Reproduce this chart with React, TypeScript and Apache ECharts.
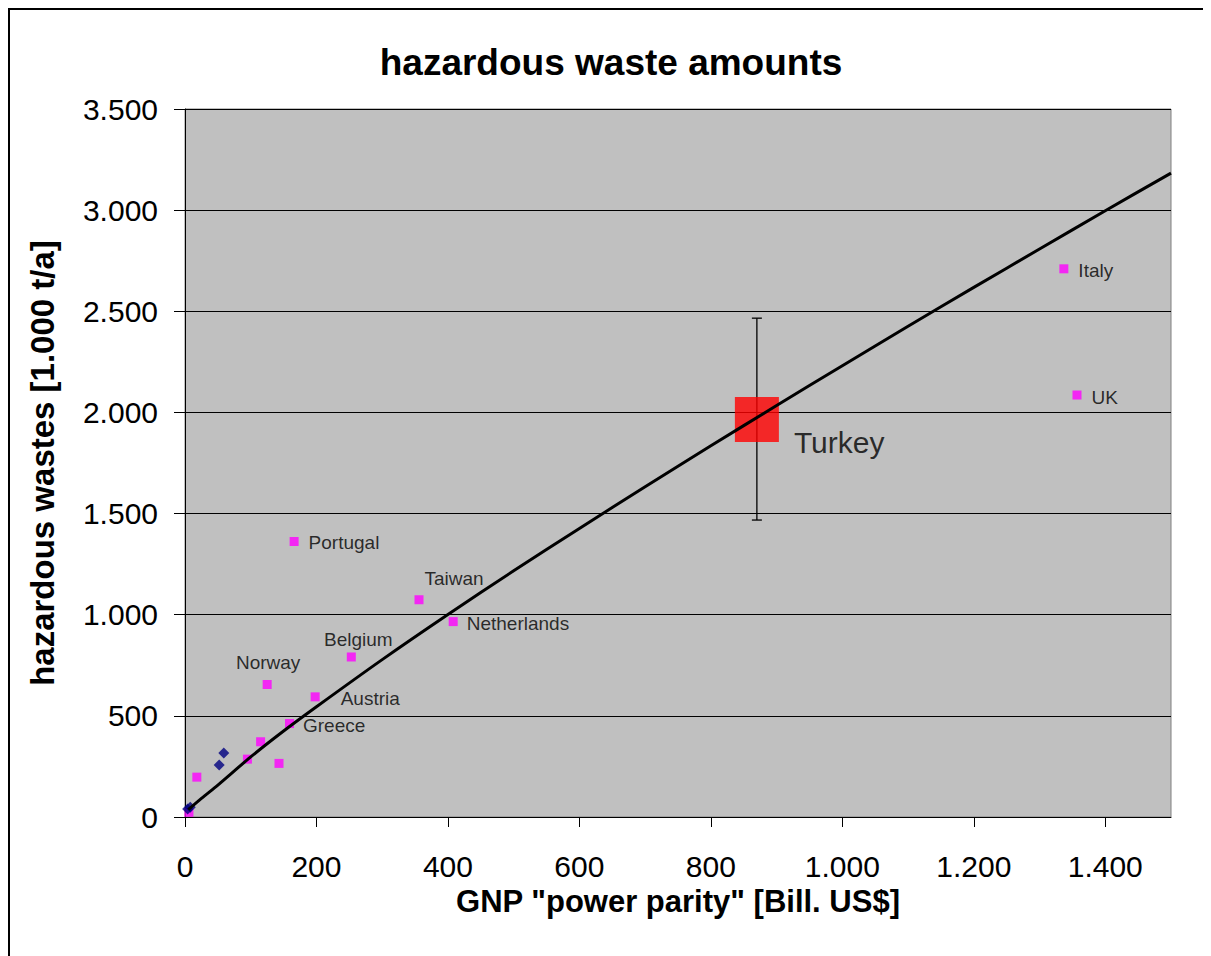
import React, { useEffect, useRef } from "react";
import * as echarts from "echarts";

// Labelled countries
const countries = ["Portugal", "Taiwan", "Netherlands", "Belgium", "Norway", "Austria", "Greece", "Italy", "UK"];
const countryGnp = [166, 356, 408, 253, 125, 198, 159, 1337, 1357];
const countryWaste = [1362, 1074, 966, 791, 655, 594, 462, 2710, 2086];

// Unlabelled magenta points
const otherGnp = [115, 95, 143, 18, 6];
const otherWaste = [372, 286, 265, 197, 23];

// Dark blue diamonds
const diamondGnp = [59, 52, 8, 4];
const diamondWaste = [316, 257, 48, 40];

// Turkey estimate with range
const turkeyGnp = 870;
const turkeyWaste = 1965;
const turkeyLow = 1468;
const turkeyHigh = 2466;

// Trend curve
const trendX = [5, 25, 50, 100, 150, 200, 300, 400, 500, 600, 700, 800, 900, 1000, 1100, 1200, 1300, 1400, 1500];
const trendY = [36, 92, 158, 297, 425, 545, 778, 1001, 1217, 1426, 1633, 1835, 2034, 2231, 2426, 2618, 2808, 2997, 3183];

// Axis ticks
const xTicks = [0, 200, 400, 600, 800, 1000, 1200, 1400];
const yTicks = [0, 500, 1000, 1500, 2000, 2500, 3000, 3500];

const FONT = "'Liberation Sans', Arial, sans-serif";

// label placement (style only)
const labelPlacement: Record<string, any> = {
  Portugal: { position: "right", distance: 10, offset: [0, 1] },
  Taiwan: { position: "top", distance: 7, offset: [35, 0] },
  Netherlands: { position: "right", distance: 9, offset: [0, 2] },
  Belgium: { position: "top", distance: 3, offset: [7, 0] },
  Norway: { position: "top", distance: 8, offset: [1, 0] },
  Austria: { position: "right", distance: 21, offset: [0, 2] },
  Greece: { position: "right", distance: 9, offset: [0, 2] },
  Italy: { position: "right", distance: 10, offset: [0, 2] },
  UK: { position: "right", distance: 10, offset: [0, 2] },
};

const fmt = (v: number) => String(v).replace(/\B(?=(\d{3})+(?!\d))/g, ".");

export default function App() {
  const ref = useRef<HTMLDivElement>(null);
  useEffect(() => {
    if (!ref.current) return;
    document.documentElement.style.overflow = "hidden";
    document.body.style.overflow = "hidden";
    const chart = echarts.init(ref.current, undefined, { renderer: "svg" });

    const countryData = countries.map((name, i) => ({
      value: [countryGnp[i], countryWaste[i]],
      name,
      label: {
        show: true,
        formatter: name,
        color: "#000",
        fontSize: 19,
        fontFamily: FONT,
        ...labelPlacement[name],
      },
    }));

    const option: any = {
      animation: false,
      backgroundColor: "#fff",
      title: {
        text: "hazardous waste amounts",
        left: 603,
        textAlign: "center",
        top: 36,
        padding: 0,
        textStyle: { fontSize: 37, fontWeight: "bold", color: "#000", fontFamily: FONT },
      },
      graphic: [
        {
          type: "line",
          shape: { x1: 1, y1: 0, x2: 1, y2: 2000 },
          style: { stroke: "#000", lineWidth: 2 },
          silent: true,
        },
        {
          type: "line",
          shape: { x1: 0, y1: 1, x2: 3000, y2: 1 },
          style: { stroke: "#000", lineWidth: 2 },
          silent: true,
        },
      ],
      grid: {
        left: 177,
        top: 101,
        right: 40,
        bottom: 139,
        show: true,
        backgroundColor: "#C0C0C0",
        borderColor: "#808080",
        borderWidth: 1,
      },
      xAxis: {
        type: "value",
        min: 0,
        max: 1500,
        interval: 200,
        name: 'GNP "power parity" [Bill. US$]',
        nameLocation: "middle",
        nameGap: 65,
        nameTextStyle: { fontSize: 31, fontWeight: "bold", color: "#000", fontFamily: FONT },
        axisLine: { show: true, onZero: false, lineStyle: { color: "#000", width: 1 } },
        axisTick: { show: true, length: 10, inside: false, customValues: xTicks, lineStyle: { color: "#000" } },
        axisLabel: {
          customValues: xTicks,
          formatter: (v: number) => fmt(v),
          fontSize: 30,
          color: "#000",
          fontFamily: FONT,
          margin: 34,
        },
        splitLine: { show: false },
      },
      yAxis: {
        type: "value",
        min: 0,
        max: 3500,
        interval: 500,
        name: "hazardous wastes [1.000 t/a]",
        nameLocation: "middle",
        nameGap: 126,
        nameTextStyle: { fontSize: 33, fontWeight: "bold", color: "#000", fontFamily: FONT },
        axisLine: { show: true, onZero: false, lineStyle: { color: "#000", width: 1 } },
        axisTick: { show: true, length: 11, inside: false, customValues: yTicks, lineStyle: { color: "#000" } },
        axisLabel: {
          customValues: yTicks,
          formatter: (v: number) => fmt(v),
          fontSize: 30,
          color: "#000",
          fontFamily: FONT,
          margin: 27,
        },
        splitLine: { show: true, lineStyle: { color: "#000", width: 1 } },
      },
      series: [
        {
          type: "custom",
          name: "range",
          z: 1,
          data: [[turkeyGnp, turkeyLow, turkeyHigh]],
          encode: { x: 0, y: [1, 2] },
          renderItem: (params: any, api: any) => {
            const lo = api.coord([api.value(0), api.value(1)]);
            const hi = api.coord([api.value(0), api.value(2)]);
            const hw = 5;
            const st = { stroke: "#000", lineWidth: 1.3 };
            return {
              type: "group",
              children: [
                { type: "line", shape: { x1: lo[0], y1: lo[1], x2: hi[0], y2: hi[1] }, style: st },
                { type: "line", shape: { x1: lo[0] - hw, y1: lo[1], x2: lo[0] + hw, y2: lo[1] }, style: st },
                { type: "line", shape: { x1: hi[0] - hw, y1: hi[1], x2: hi[0] + hw, y2: hi[1] }, style: st },
              ],
            };
          },
        },
        {
          type: "scatter",
          name: "Turkey",
          z: 2,
          symbol: "rect",
          symbolSize: [44, 45],
          itemStyle: { color: "#FF0000" },
          data: [
            {
              value: [turkeyGnp, turkeyWaste],
              label: {
                show: true,
                formatter: "Turkey",
                position: "right",
                distance: 15,
                offset: [0, 23],
                fontSize: 30,
                color: "#000",
                fontFamily: FONT,
              },
            },
          ],
        },
        {
          type: "scatter",
          name: "others",
          z: 3,
          symbol: "rect",
          symbolSize: 9,
          itemStyle: { color: "#FF00FF" },
          data: otherGnp.map((g, i) => [g, otherWaste[i]]),
        },
        {
          type: "scatter",
          name: "countries",
          z: 3,
          symbol: "rect",
          symbolSize: 9,
          itemStyle: { color: "#FF00FF" },
          data: countryData,
        },
        {
          type: "scatter",
          name: "diamonds",
          z: 4,
          symbol: "diamond",
          symbolSize: 11,
          itemStyle: { color: "#000080" },
          data: diamondGnp.map((g, i) => [g, diamondWaste[i]]),
        },
        {
          type: "line",
          name: "trend",
          z: 5,
          smooth: 0.3,
          showSymbol: false,
          lineStyle: { color: "#000", width: 3 },
          data: trendX.map((x, i) => [x, trendY[i]]),
        },
      ],
    };
    chart.setOption(option);
    return () => chart.dispose();
  }, []);
  return <div ref={ref} style={{ width: 1203, height: 948 }} />;
}
